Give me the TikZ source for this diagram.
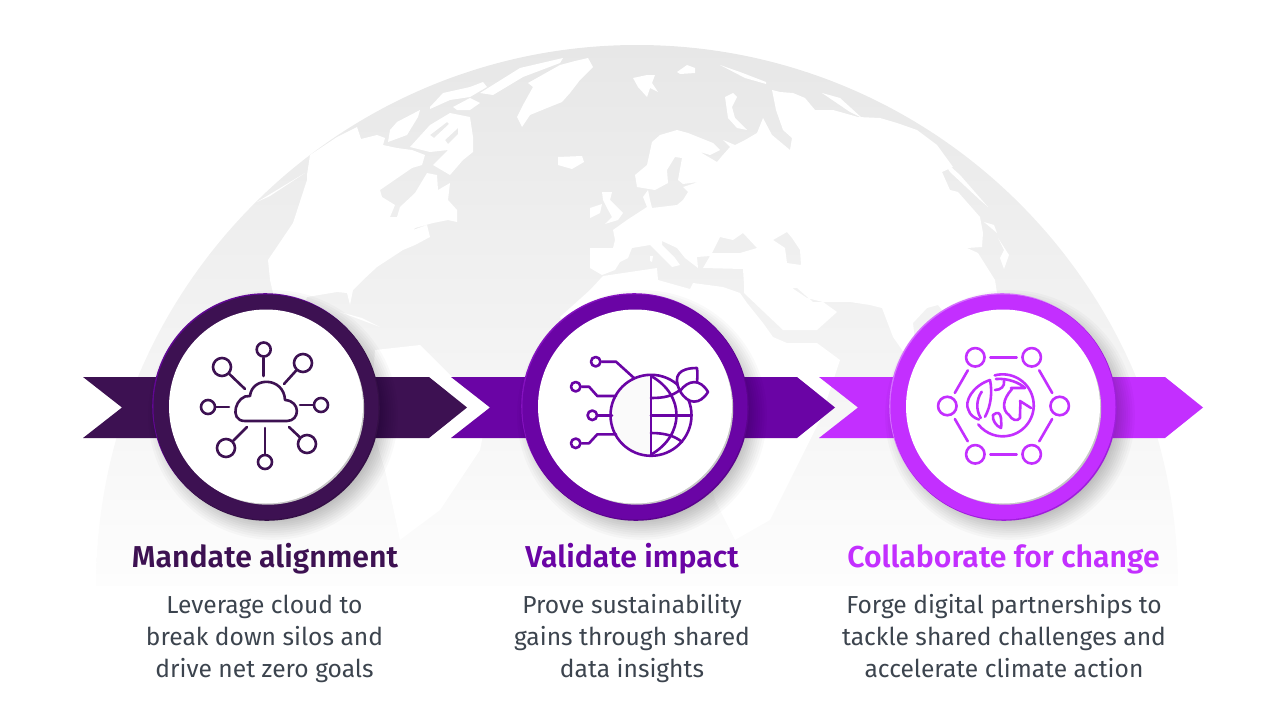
\documentclass[tikz,border=0pt]{standalone}
\usepackage{fontspec}
\setmainfont{Fira Sans}
\newfontfamily\headfont{Fira Sans SemiBold}
\usepackage{tikz}

\definecolor{plum}{HTML}{3D1152}
\definecolor{violet}{HTML}{6A04A5}
\definecolor{orchid}{HTML}{C32FFF}
\definecolor{slate}{HTML}{3C444E}
\definecolor{seatop}{HTML}{E7E7E7}
\definecolor{seabottom}{HTML}{FDFDFD}

\begin{document}
\begin{tikzpicture}[x=1pt,y=-1pt,
      land/.style={fill=white,even odd rule},
      ring/.style={circle,minimum size=225pt,inner sep=0pt},
      disc/.style={circle,minimum size=194pt,inner sep=0pt,fill=white},
      head/.style={font=\headfont\fontsize{30.2}{34}\selectfont,anchor=base},
      body/.style={font=\fontsize{24.6}{32}\selectfont,color=slate,align=center},
      icon/.style={line width=2.6pt,line cap=round,line join=round},
      pin/.style={circle,draw,line width=2.6pt,fill=white,inner sep=0pt}]
  \useasboundingbox (0,0) rectangle (1280,720);

  % globe
  \shade[top color=seatop,bottom color=seabottom]
    (96,586) arc[start angle=180,end angle=0,radius=541pt] -- cycle;

  % north america
  \fill[land] (307,175) -- (310,155) -- (337,137) -- (357,127) -- (361,139) -- (377,135) -- (385,138)
    -- (383,145) -- (397,148) -- (412,150) -- (425,155) -- (422,165) -- (412,168) -- (380,190)
    -- (382,197) -- (395,205) -- (390,217) -- (397,217) -- (400,207) -- (415,193) -- (427,173)
    -- (437,175) -- (438,190) -- (450,183) -- (448,200) -- (457,210) -- (457,222) -- (448,220)
    -- (433,223) -- (415,228) -- (413,230) -- (427,225) -- (430,237) -- (415,245) -- (403,250)
    -- (377,267) -- (363,280) -- (353,290) -- (350,305) -- (347,293) -- (337,292) -- (307,297)
    -- (300,320) -- (273,320) -- (273,293) -- (270,280) -- (268,260) -- (293,223) -- (307,180) -- cycle;
  \fill[land] (257,202) -- (305,173) -- (270,196) -- cycle;
  \fill[land] (380,327) -- (340,312) -- (362,318) -- cycle;
  % south america
  \fill[land] (375,350) -- (420,345) -- (450,375) -- (490,400) -- (480,450) -- (440,510) -- (400,540)
    -- (385,470) -- (370,420) -- cycle;
  % arctic islands
  \fill[land] (390,130) -- (397,122) -- (420,110) -- (418,117) -- (407,135) -- (388,142) -- cycle;
  \fill[land] (410,147) -- (430,125) -- (450,113) -- (470,117) -- (473,137) -- (473,152) -- (463,160)
    -- (450,175) -- (433,165) -- (448,150) -- (430,152) -- cycle
    (430,135) -- (447,122) -- (449,124) -- (434,138) -- cycle
    (445,140) -- (458,128) -- (458,134) -- (448,144) -- cycle;
  \fill[land] (430,107) -- (443,93) -- (470,87) -- (483,82) -- (487,87) -- (470,97) -- (450,100) -- (430,109) -- cycle;
  \fill[land] (453,107) -- (470,98) -- (480,103) -- (470,110) -- (457,110) -- cycle;
  \fill[land] (480,93) -- (520,68) -- (563,58) -- (560,63) -- (523,77) -- (493,95) -- cycle;
  % greenland
  \fill[land] (517,117) -- (522,127) -- (530,115) -- (547,108) -- (562,102) -- (570,93) -- (580,80)
    -- (593,67) -- (588,58) -- (575,61) -- (560,65) -- (528,83) -- (533,87) -- (523,105) -- cycle;
  % small islands
  \fill[land] (633,78) -- (647,75) -- (655,75) -- (652,83) -- (658,92) -- (650,88) -- (647,97) -- (638,87) -- cycle;
  \fill[land] (677,72) -- (687,65) -- (695,68) -- (695,73) -- (680,74) -- cycle;
  \fill[land] (558,157) -- (582,156) -- (584,162) -- (572,169) -- (558,165) -- cycle;
  \fill[land] (602,192) -- (612,192) -- (610,200) -- (623,213) -- (618,220) -- (605,224) -- (612,217)
    -- (607,208) -- (603,200) -- cycle;
  \fill[land] (590,208) -- (602,204) -- (600,213) -- (590,218) -- cycle;
  \fill[land] (725,97) -- (733,93) -- (737,97) -- (732,107) -- (735,118) -- (747,130) -- (737,128) -- (728,118) -- cycle;
  \fill[land] (720,65) -- (740,72) -- (766,82) -- (766,84) -- (745,78) -- cycle;
  \fill[land] (822,93) -- (840,98) -- (862,118) -- (850,112) -- cycle;
  \fill[land] (940,157) -- (960,175) -- (988,207) -- (980,200) -- (950,172) -- cycle;
  \fill[land] (984,222) -- (994,225) -- (997,233) -- cycle;
  \fill[land] (998,238) -- (1009,255) -- (1004,269) -- (1000,258) -- (1004,250) -- cycle;
  \fill[land] (650,256) -- (653,256) -- (652,262) -- (650,261) -- cycle;

  % eurasia with black sea and caspian
  \fill[land] (613,230) -- (627,220) -- (647,207) -- (643,197) -- (648,190) -- (650,200) -- (652,208)
    -- (677,205) -- (683,200) -- (688,192) -- (683,187) -- (698,182) -- (683,184) -- (678,180)
    -- (682,158) -- (675,157) -- (667,170) -- (668,183) -- (655,190) -- (637,187) -- (635,175)
    -- (647,165) -- (652,142) -- (660,135) -- (677,130) -- (688,133) -- (713,143) -- (720,150)
    -- (710,155) -- (700,152) -- (717,162) -- (722,156) -- (730,147) -- (723,140) -- (735,145)
    -- (745,140) -- (757,133) -- (763,118) -- (772,135) -- (790,150) -- (792,138) -- (783,130)
    -- (776,110) -- (772,90) -- (780,92) -- (793,93) -- (805,98) -- (815,110) -- (833,110) -- (858,117)
    -- (880,118) -- (897,123) -- (917,130) -- (937,145) -- (953,167) -- (942,172) -- (950,190)
    -- (958,192) -- (980,217) -- (983,233) -- (982,247) -- (967,248) -- (978,253) -- (995,280)
    -- (997,293) -- (997,330) -- (960,340) -- (950,320) -- (938,305) -- (927,308) -- (913,323)
    -- (915,340) -- (907,357) -- (893,337) -- (882,308) -- (870,305) -- (850,302) -- (837,302)
    -- (813,302) -- (797,288) -- (792,288) -- (807,298) -- (823,302) -- (837,312) -- (817,330)
    -- (783,330) -- (744,293) -- (744,285) -- (743,269) -- (703,268) -- (710,256) -- (697,257)
    -- (698,268) -- (685,258) -- (677,248) -- (662,241) -- (662,245) -- (675,258) -- (680,265)
    -- (672,267) -- (650,245) -- (632,248) -- (628,258) -- (620,262) -- (615,270) -- (602,275)
    -- (590,268) -- (590,248) -- (613,248) -- (615,240) -- cycle
    (712,253) -- (720,237) -- (733,240) -- (743,233) -- (757,248) -- (740,253) -- cycle
    (773,240) -- (787,232) -- (792,238) -- (800,250) -- (801,265) -- (787,263) -- (785,248) -- cycle;

  % africa
  \fill[land] (603,276) -- (657,268) -- (658,280) -- (690,289) -- (693,283) -- (723,287) -- (740,293)
    -- (747,303) -- (763,323) -- (773,337) -- (787,343) -- (817,343) -- (840,360) -- (820,420)
    -- (790,480) -- (770,520) -- (735,540) -- (715,500) -- (700,440) -- (670,415) -- (630,415)
    -- (580,340) -- (560,317) -- (590,290) -- cycle;

  % banners
  \foreach \sx/\col in {0/plum,368/violet,736/orchid}
    \fill[\col,shift={(\sx,0)}] (83,377) -- (429,377) -- (467,407.5) -- (429,438) -- (83,438) -- (122,407.5) -- cycle;

  % rings
  \foreach \nm/\cx/\col/\lit/\dark in {a/266/plum/violet!80!plum/plum!85!black,b/635/violet/violet!70!orchid/violet!85!black,c/1003/orchid/orchid!70!white/orchid!60!violet}{
    \foreach \r in {0,1,...,13}
      \fill[black,opacity=0.022] (\cx+7,407+8) circle (99pt+\r*1.6pt+\r*\r*0.03pt);
    \fill[\lit] (\cx-.8,406.2) circle (113pt);
    \fill[\dark] (\cx+.8,407.8) circle (113pt);
    \node[ring,fill=\col] (ring\nm) at (\cx,407) {};
    \fill[black!22] (\cx+2,408.5) circle (96.2pt);
    \node[disc] (disc\nm) at (\cx,406.5) {};
  }

  % cloud icon
  \begin{scope}[icon,draw=plum,color=plum]
    \draw (245,421) -- (287,421) .. controls (300,421) and (301,401) .. (285,400)
      .. controls (284,377) and (252,376) .. (250,396) .. controls (236,394) and (228,421) .. (245,421) -- cycle;
    \node[pin,minimum size=14pt] (pt) at (263.7,349.5) {};
    \node[pin,minimum size=18pt] (pne) at (303,363) {};
    \node[pin,minimum size=14pt] (pe) at (321,405) {};
    \node[pin,minimum size=18pt] (pse) at (307,444) {};
    \node[pin,minimum size=14pt] (ps) at (265,462) {};
    \node[pin,minimum size=18pt] (psw) at (226,448) {};
    \node[pin,minimum size=14pt] (pw) at (208,407) {};
    \node[pin,minimum size=18pt] (pnw) at (222,367) {};
    \coordinate (ct) at (263.7,376);
    \coordinate (cne) at (284,384);
    \coordinate (ce) at (300,405);
    \coordinate (cse) at (289,427);
    \coordinate (cs) at (265,428);
    \coordinate (csw) at (247,427);
    \coordinate (cw) at (229,407);
    \coordinate (cnw) at (245,389);
    \foreach \a/\b in {pt/ct,pne/cne,pe/ce,pse/cse,ps/cs,psw/csw,pw/cw,pnw/cnw}
      \draw (\a) -- (\b);
  \end{scope}

  % globe with leaves
  \begin{scope}[icon,draw=violet,color=violet]
    \fill[black!2] (651,376) arc[start angle=90,end angle=270,radius=39.3pt] -- cycle;
    \node[circle,draw,line width=2.6pt,minimum size=81pt,inner sep=0pt] (world) at (651,415.3) {};
    \draw (651,376) -- (651,454.6);
    \draw (651,376) .. controls (685,395) and (685,435) .. (651,454.6);
    \draw (651,415.3) -- (690,415.3);
    \draw (651,398) .. controls (665,398) and (672,396) .. (680,390);
    \draw (651,433) .. controls (665,433) and (675,436) .. (682,442);
    \draw[fill=white] (680,391) .. controls (672,375) and (680,368) .. (697,368) .. controls (698,375) and (697,380) .. (697,383);
    \draw[fill=white] (680,391) .. controls (688,380) and (700,378) .. (708,392) .. controls (700,405) and (688,405) .. (680,391) -- cycle;
    \node[pin,minimum size=9.5pt] (ca) at (595.7,361.7) {};
    \node[pin,minimum size=9.5pt] (cb) at (575.7,386.7) {};
    \node[pin,minimum size=9.5pt] (cc) at (592.3,415.3) {};
    \node[pin,minimum size=9.5pt] (cd) at (575.7,443.3) {};
    \draw (ca) -- (616,361.7) -- (634,378);
    \draw (cb) -- (589,386.7) -- (597.3,396) -- (616,396);
    \draw (cc) -- (612,415.3);
    \draw (cd) -- (589,443.3) -- (597.3,434.3) -- (616,434.3);
  \end{scope}

  % hexagon with earth
  \begin{scope}[icon,draw=orchid,color=orchid]
    \node[pin,minimum size=18.5pt] (ha) at (975.3,357.3) {};
    \node[pin,minimum size=18.5pt] (hb) at (1031.7,357.3) {};
    \node[pin,minimum size=18.5pt] (hc) at (1059.7,406) {};
    \node[pin,minimum size=18.5pt] (hd) at (1031.7,454.3) {};
    \node[pin,minimum size=18.5pt] (he) at (975.3,454.3) {};
    \node[pin,minimum size=18.5pt] (hf) at (947.3,406) {};
    \foreach \a/\b in {ha/hb,hb/hc,hc/hd,hd/he,he/hf,hf/ha}
      \draw[shorten >=4.5pt,shorten <=4.5pt] (\a) -- (\b);
    \draw (994.7,375.4) arc[start angle=105,end angle=-142,radius=31pt];
    \draw (990,380) .. controls (972,386) and (964,402) .. (968.5,410) .. controls (970,415) and (974,418) .. (979,419.5);
    \draw (990,380) .. controls (992.5,392) and (991,406) .. (985,416.7);
    \draw (981.7,391.7) .. controls (976,400) and (976,410) .. (980.7,418);
    \draw (995,390) .. controls (1001,390) and (1005,386) .. (1004,381);
    \draw (996,379) .. controls (1008,378) and (1020,383) .. (1025,388) -- (1011,388);
    \draw (1012,389) .. controls (1002,400) and (1002,410) .. (1009,415) .. controls (1012,420) and (1017,422) .. (1020,418) .. controls (1020,405) and (1021,402) .. (1020,401) -- (1031,408);
    \draw (993,415) .. controls (998,411) and (1000,413) .. (1001,418) .. controls (1001,424) and (1002,426) .. (1001,428) .. controls (996,426) and (992,420) .. (993,415) -- cycle;
  \end{scope}

  % captions
  \node[head,color=plum] (heada) at (265,567.3) {Mandate alignment};
  \node[head,color=violet] (headb) at (632,567.3) {Validate impact};
  \node[head,color=orchid] (headc) at (1003.5,567.3) {Collaborate for change};
  \node[body] (bodya) at (264.5,638.6) {\strut Leverage cloud to\\break down silos and\\drive net zero goals\strut};
  \node[body] (bodyb) at (632,638.6) {\strut Prove sustainability\\gains through shared\\data insights\strut};
  \node[body] (bodyc) at (1004,638.6) {\strut Forge digital partnerships to\\tackle shared challenges and\\accelerate climate action\strut};
\end{tikzpicture}
\end{document}
